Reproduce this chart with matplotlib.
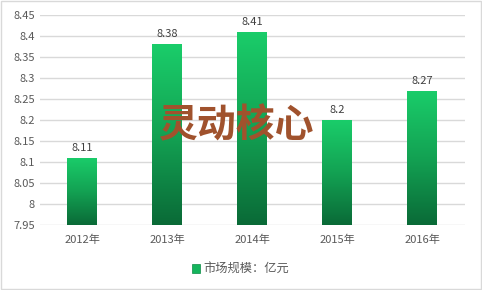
import numpy as np
import matplotlib.pyplot as plt
from matplotlib.colors import LinearSegmentedColormap
from matplotlib.patches import Rectangle

plt.rcParams['font.family'] = ['Noto Sans CJK SC', 'DejaVu Sans']

years = ['2012年', '2013年', '2014年', '2015年', '2016年']
values = [8.11, 8.38, 8.41, 8.2, 8.27]
yticks = [7.95, 8, 8.05, 8.1, 8.15, 8.2, 8.25, 8.3, 8.35, 8.4, 8.45]
ytick_labels = ['7.95', '8', '8.05', '8.1', '8.15', '8.2', '8.25', '8.3', '8.35', '8.4', '8.45']

fig = plt.figure(figsize=(4.82, 2.90), dpi=100)
fig.patches.append(Rectangle((0.002, 0.003), 0.995, 0.993, transform=fig.transFigure,
                             fill=False, edgecolor='#D9D9D9', linewidth=1))
ax = fig.add_axes([0.082, 0.224, 0.882, 0.724])

x = np.arange(len(years))
bars = ax.bar(x, values, width=0.35, color='none', zorder=3)

# each bar gets its own dark-to-bright gradient
cmap = LinearSegmentedColormap.from_list('g', ['#0A6A37', '#13A253', '#1ACD6A'])
grad = np.linspace(0, 1, 256).reshape(-1, 1)
for b, v in zip(bars, values):
    x0 = b.get_x()
    im = ax.imshow(grad, cmap=cmap, aspect='auto', origin='lower',
                   extent=[x0, x0 + b.get_width(), 7.95, v], zorder=3)
    im.set_clip_path(b)
    ax.text(b.get_x() + b.get_width() / 2, v + 0.012, f'{v:g}', ha='center', va='bottom',
            fontsize=8, color='#404040', zorder=4)

ax.set_xlim(-0.5, len(years) - 0.5)
ax.set_ylim(7.95, 8.45)
ax.set_yticks(yticks)
ax.set_yticklabels(ytick_labels)
ax.set_xticks(x)
ax.set_xticklabels(years)
ax.tick_params(axis='both', length=0, labelsize=8, colors='#595959')
ax.tick_params(axis='x', pad=7)
ax.grid(axis='y', color='#D9D9D9', linewidth=1, zorder=0)
for s in ax.spines.values():
    s.set_visible(False)
ax.set_axisbelow(True)

# legend
fig.patches.append(Rectangle((0.398, 0.058), 0.017, 0.03, transform=fig.transFigure,
                             facecolor='#14B55C', edgecolor='#0B8A45', linewidth=0.5))
fig.text(0.421, 0.073, '市场规模：亿元', fontsize=8.8, color='#595959', va='center', ha='left')

# watermark
fig.text(0.492, 0.565, '灵动核心', fontsize=28, fontweight='bold', color='#A0522D',
         ha='center', va='center', zorder=10)

fig.savefig('out.png', dpi=100)
